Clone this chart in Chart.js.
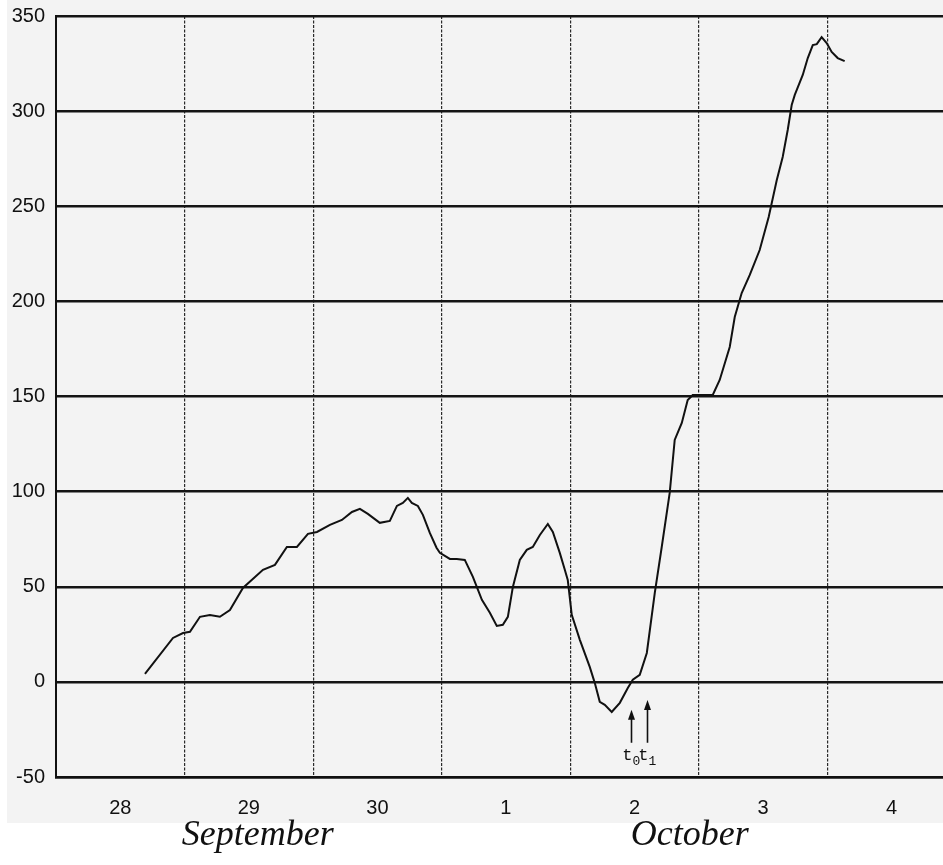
<!DOCTYPE html>
<html>
<head>
<meta charset="utf-8">
<title>September / October curve</title>
<script src="https://cdn.jsdelivr.net/npm/chart.js@4.4.1/dist/chart.umd.min.js"></script>
<style>
  html, body { margin: 0; padding: 0; background: #ffffff; }
  #chart { display: block; }
</style>
</head>
<body>
<canvas id="chart" width="943" height="865"></canvas>
<script>
// Curve: x = days since the start of 28 September, y = value
const days = [
  0.692, 0.910, 0.988, 1.042, 1.120, 1.197, 1.275, 1.353, 1.454, 1.610,
  1.703, 1.796, 1.874, 1.960, 2.030, 2.131, 2.224, 2.302, 2.364, 2.426,
  2.519, 2.597, 2.652, 2.698, 2.737, 2.768, 2.815, 2.854, 2.908, 2.960,
  2.986, 3.064, 3.118, 3.180, 3.243, 3.313, 3.375, 3.429, 3.476, 3.515,
  3.554, 3.608, 3.662, 3.709, 3.764, 3.826, 3.865, 3.919, 3.958, 3.981,
  4.012, 4.075, 4.152, 4.191, 4.230, 4.269, 4.323, 4.386, 4.448, 4.487,
  4.541, 4.596, 4.658, 4.712, 4.774, 4.813, 4.868, 4.914, 4.953, 5.008,
  5.109, 5.163, 5.241, 5.280, 5.334, 5.397, 5.474, 5.544, 5.607, 5.653,
  5.692, 5.723, 5.747, 5.809, 5.848, 5.887, 5.918, 5.956, 5.995, 6.034,
  6.081, 6.135
];
const values = [
  4.2, 23.1, 25.7, 26.3, 34.2, 35.2, 34.2, 37.8, 49.4, 58.9,
  61.5, 70.9, 70.9, 77.8, 78.8, 82.5, 85.1, 89.3, 90.9, 88.3,
  83.6, 84.6, 92.5, 94.1, 96.7, 94.1, 92.5, 87.8, 78.3, 70.5,
  67.8, 64.6, 64.6, 64.1, 55.2, 43.1, 36.3, 29.4, 30.0, 34.2,
  49.9, 64.1, 69.4, 70.9, 77.2, 83.0, 78.8, 67.8, 58.9, 53.6,
  35.2, 22.1, 7.9, -0.5, -10.5, -12.1, -15.8, -11.0, -3.2, 1.1,
  3.7, 15.2, 46.8, 70.9, 99.3, 127.2, 136.1, 148.2, 150.8, 150.8,
  150.8, 158.7, 176.0, 191.8, 204.4, 213.9, 227.0, 244.4, 263.8, 275.9,
  290.1, 303.2, 308.5, 319.0, 327.9, 334.7, 335.2, 338.9, 335.8, 331.1,
  327.9, 326.3
];

// Day labels sit in the middle of each day cell
const dayLabels = ["28", "29", "30", "1", "2", "3", "4"];
const dayCenters = [0.5, 1.5, 2.5, 3.5, 4.5, 5.5, 6.5];
const yTicks = [-50, 0, 50, 100, 150, 200, 250, 300, 350];

// Month names under the axis (centre given in days)
const monthLabels = ["September", "October"];
const monthCenters = [1.57, 4.93];

// The two arrows t0 / t1 below the minimum
const arrowNames = ["t", "t"];
const arrowSubs = ["0", "1"];
const arrowDays = [4.471, 4.596];
const arrowTips = [-14.7, -9.5];
const arrowBase = -32;

const tickFont = "'Liberation Sans', Arial, sans-serif";

// Light grey of the scanned page behind the plot
const scanBackground = {
  id: "scanBackground",
  beforeDraw(chart) {
    const ctx = chart.ctx;
    ctx.save();
    ctx.fillStyle = "#ffffff";
    ctx.fillRect(0, 0, chart.width, chart.height);
    ctx.fillStyle = "#f3f3f3";
    ctx.fillRect(7, 0, chart.width - 7, 823);
    ctx.restore();
  },
};

// Arrows, their labels and the month names
const extras = {
  id: "extras",
  afterDraw(chart) {
    const ctx = chart.ctx;
    const x = chart.scales.x;
    const y = chart.scales.y;
    ctx.save();
    ctx.strokeStyle = "#111";
    ctx.fillStyle = "#111";
    ctx.lineWidth = 1.6;

    arrowDays.forEach((d, i) => {
      const px = Math.round(x.getPixelForValue(d)) + 0.5;
      const top = y.getPixelForValue(arrowTips[i]);
      const bottom = y.getPixelForValue(arrowBase);
      ctx.beginPath();
      ctx.moveTo(px, bottom);
      ctx.lineTo(px, top + 6);
      ctx.stroke();
      ctx.beginPath();
      ctx.moveTo(px, top);
      ctx.lineTo(px - 3.5, top + 10);
      ctx.lineTo(px + 3.5, top + 10);
      ctx.closePath();
      ctx.fill();

      // "t" with a small subscript
      ctx.textBaseline = "middle";
      ctx.textAlign = "right";
      ctx.font = "17px 'Liberation Mono', monospace";
      ctx.fillText(arrowNames[i], px + 1, bottom + 13);
      ctx.textAlign = "left";
      ctx.font = "13px 'Liberation Mono', monospace";
      ctx.fillText(arrowSubs[i], px + 1, bottom + 19);
    });

    ctx.font = "italic 36px 'Liberation Serif', 'Times New Roman', serif";
    ctx.textAlign = "center";
    ctx.textBaseline = "middle";
    monthLabels.forEach((label, i) => {
      ctx.fillText(label, x.getPixelForValue(monthCenters[i]), 836);
    });
    ctx.restore();
  },
};

const ctx = document.getElementById("chart").getContext("2d");

new Chart(ctx, {
  type: "line",
  data: {
    datasets: [
      {
        data: days.map((d, i) => ({ x: d, y: values[i] })),
        borderColor: "#111111",
        borderWidth: 2,
        pointRadius: 0,
        tension: 0,
        fill: false,
      },
    ],
  },
  options: {
    responsive: false,
    animation: false,
    layout: { padding: { top: 0, right: 0, bottom: 38, left: 0 } },
    plugins: {
      legend: { display: false },
      tooltip: { enabled: false },
    },
    scales: {
      x: {
        type: "linear",
        min: 0,
        max: 6.9,
        afterBuildTicks: (scale) => {
          scale.ticks = dayCenters.map((v) => ({ value: v }));
        },
        afterFit: (scale) => {
          scale.height = 50;
        },
        ticks: {
          color: "#111",
          padding: 19,
          maxRotation: 0,
          autoSkip: false,
          font: { family: tickFont, size: 20 },
          callback: (value, index) => dayLabels[index],
        },
        grid: { offset: true, color: "#2a2a2a", lineWidth: 1.2, drawTicks: false },
        border: { color: "#111", width: 2.5, dash: [3, 1.5] },
      },
      y: {
        min: -50,
        max: 350,
        afterBuildTicks: (scale) => {
          scale.ticks = yTicks.map((v) => ({ value: v }));
        },
        afterFit: (scale) => {
          // fixed gutter for the labels and the 350 line at y = 16
          scale.width = 56;
          scale.paddingTop = 16;
          scale.paddingBottom = 0;
        },
        ticks: {
          color: "#111",
          padding: 11,
          font: { family: tickFont, size: 20 },
        },
        grid: { color: "#141414", lineWidth: 2.5, drawTicks: false },
        border: { color: "#111", width: 2 },
      },
    },
  },
  plugins: [scanBackground, extras],
});
</script>
</body>
</html>
